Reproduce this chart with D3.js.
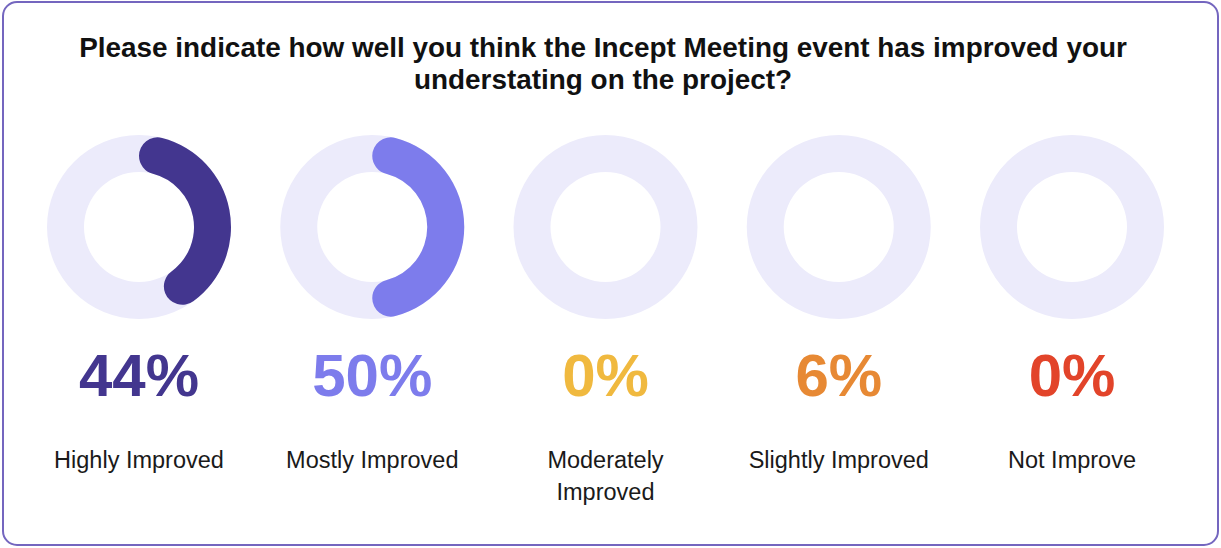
<!DOCTYPE html>
<html>
<head>
<meta charset="utf-8">
<script src="https://cdn.jsdelivr.net/npm/d3@7"></script>
<style>
  body { margin: 0; background: #fff; }
  svg { display: block; }
</style>
</head>
<body>
<div id="chart"></div>
<script>
const title = ["Please indicate how well you think the Incept Meeting event has improved your", "understating on the project?"];
const categories = [["Highly Improved"], ["Mostly Improved"], ["Moderately", "Improved"], ["Slightly Improved"], ["Not Improve"]];
const percentLabels = [44, 50, 0, 6, 0];
// share of the ring that is filled, as drawn in the picture
const arcShare = [0.44, 0.50, 0, 0.34, 0];
const colors = ["#43368f", "#7d7cec", "#f0b93f", "#e78934", "#e2442a"];

const width = 1221, height = 548;
const font = "'Liberation Sans', Arial, sans-serif";
const svg = d3.select("#chart").append("svg").attr("width", width).attr("height", height);

svg.append("rect")
    .attr("x", 3).attr("y", 2)
    .attr("width", width - 6).attr("height", height - 5)
    .attr("rx", 14)
    .style("fill", "#fff")
    .style("stroke", "#7466bf")
    .style("stroke-width", 2);

svg.append("text")
    .attr("x", 603).attr("y", 57)
    .attr("text-anchor", "middle")
    .style("font-family", font)
    .style("font-weight", "bold")
    .style("font-size", "27.9px")
    .style("fill", "#111")
    .selectAll("tspan").data(title).enter().append("tspan")
    .attr("x", 603).attr("dy", (d, i) => i ? 32 : 0)
    .text(d => d);

const x = d3.scalePoint().domain(d3.range(categories.length)).range([139, 1072]);
const cy = 227;
const outerR = 92, innerR = 55;
const angle = d3.scaleLinear().domain([0, 1]).range([0, 2 * Math.PI]);

const track = d3.arc().innerRadius(innerR).outerRadius(outerR).startAngle(0).endAngle(2 * Math.PI);
const fill = d3.arc().innerRadius(innerR).outerRadius(outerR).cornerRadius((outerR - innerR) / 2)
    .startAngle(0).endAngle(d => angle(d));

const g = svg.selectAll(".donut").data(categories).enter().append("g")
    .attr("class", "donut")
    .attr("transform", (d, i) => `translate(${x(i)},${cy})`);

g.append("path").attr("d", track()).style("fill", "#ecebfb");

g.filter((d, i) => arcShare[i] > 0)
    .append("path")
    .attr("d", (d, i) => fill(arcShare[i]))
    .style("fill", (d, i) => colors[i]);

g.append("text")
    .attr("y", 396 - cy)
    .attr("text-anchor", "middle")
    .style("font-family", font)
    .style("font-weight", "bold")
    .style("font-size", "60px")
    .style("fill", (d, i) => colors[i])
    .text((d, i) => percentLabels[i] + "%");

g.append("text")
    .attr("y", 468 - cy)
    .attr("text-anchor", "middle")
    .style("font-family", font)
    .style("font-size", "23.5px")
    .style("fill", "#1a1a1a")
    .selectAll("tspan").data(d => d).enter().append("tspan")
    .attr("x", 0).attr("dy", (d, i) => i ? 32 : 0)
    .text(d => d);
</script>
</body>
</html>
